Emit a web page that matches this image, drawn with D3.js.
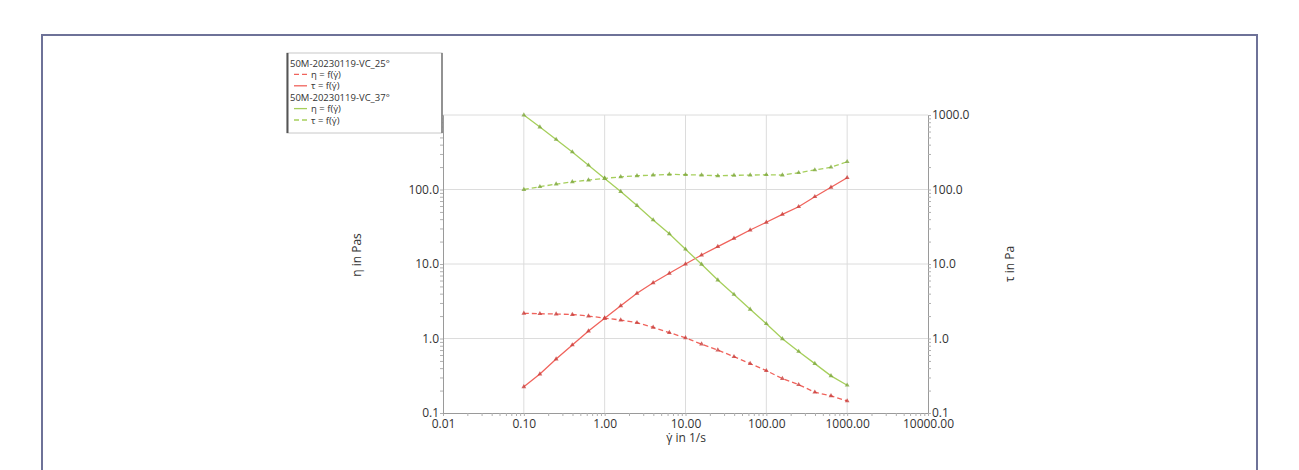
<!DOCTYPE html>
<html>
<head>
<meta charset="utf-8">
<script src="https://cdn.jsdelivr.net/npm/d3@7"></script>
<style>
  body { margin: 0; background: #fff; }
  svg text { font-family: "Open Sans", "DejaVu Sans", sans-serif; fill: #333; }
</style>
</head>
<body>
<div id="chart"></div>
<script>
const width = 1299;
const height = 470;

// shear rate (1/s)
const shearRate = [0.1, 0.158, 0.251, 0.398, 0.631, 1, 1.58, 2.51, 3.98, 6.31, 10,
  15.8, 25.1, 39.8, 63.1, 100, 158, 251, 398, 631, 1000];

// 25° sample
const eta25 = [2.18, 2.15, 2.13, 2.1, 2.0, 1.88, 1.77, 1.63, 1.41, 1.2, 1.02,
  0.84, 0.7, 0.57, 0.46, 0.37, 0.29, 0.24, 0.19, 0.17, 0.145];
const tau25 = [0.225, 0.333, 0.53, 0.82, 1.26, 1.87, 2.75, 4.04, 5.6, 7.5, 10.0,
  13.2, 17.1, 22.1, 28.6, 36.3, 46.4, 58.7, 80, 107, 144];

// 37° sample
const eta37 = [1000, 690, 470, 319, 212, 141, 94, 61, 39, 25.4, 15.8,
  9.9, 6.1, 3.9, 2.47, 1.58, 0.99, 0.67, 0.46, 0.315, 0.236];
const tau37 = [100, 109, 118, 127, 134, 141, 148, 153, 156, 160, 158,
  156, 153, 155, 156, 158, 156, 168, 183, 199, 236];

const xTickLabels = ["0.01", "0.10", "1.00", "10.00", "100.00", "1000.00", "10000.00"];
const leftTickLabels = ["0.1", "1.0", "10.0", "100.0"];
const rightTickLabels = ["0.1", "1.0", "10.0", "100.0", "1000.0"];

const red = "#f0635c";
const green = "#a6cf5c";

const series = [
  { name: "eta25", values: eta25, color: red, marker: "#c9403c", dash: "5,3" },
  { name: "tau25", values: tau25, color: red, marker: "#c9403c", dash: null },
  { name: "eta37", values: eta37, color: green, marker: "#7fa83e", dash: null },
  { name: "tau37", values: tau37, color: green, marker: "#7fa83e", dash: "5,3" },
];

const svg = d3.select("#chart").append("svg")
  .attr("width", width)
  .attr("height", height);

// page frame
svg.append("rect")
  .attr("x", 42).attr("y", 35)
  .attr("width", 1215).attr("height", 460)
  .attr("fill", "none")
  .attr("stroke", "#6e7298")
  .attr("stroke-width", 2);

const x = d3.scaleLog().domain([0.01, 10000]).range([443, 928]);
const y = d3.scaleLog().domain([0.1, 1000]).range([413, 115]);

const decadesX = [0.01, 0.1, 1, 10, 100, 1000, 10000];
const decadesY = [0.1, 1, 10, 100, 1000];

// grid
svg.append("g").selectAll("line").data(decadesX.slice(1, -1)).enter().append("line")
  .attr("x1", d => x(d)).attr("x2", d => x(d))
  .attr("y1", y(1000)).attr("y2", y(0.1))
  .attr("stroke", "#dcdcdc");
svg.append("g").selectAll("line").data(decadesY.slice(1)).enter().append("line")
  .attr("x1", x(0.01)).attr("x2", x(10000))
  .attr("y1", d => y(d)).attr("y2", d => y(d))
  .attr("stroke", "#dcdcdc");

// axes
const xAxis = svg.append("g")
  .attr("transform", `translate(0,${y(0.1)})`)
  .call(d3.axisBottom(x)
    .tickValues(x.ticks())
    .tickSize(3)
    .tickPadding(3)
    .tickFormat(d => {
      const i = decadesX.findIndex(v => Math.abs(v - d) < d * 1e-6);
      return i >= 0 ? xTickLabels[i] : "";
    }));

const leftAxis = svg.append("g")
  .attr("transform", `translate(${x(0.01)},0)`)
  .call(d3.axisLeft(y)
    .tickValues(y.ticks())
    .tickSize(3)
    .tickPadding(1)
    .tickFormat(d => {
      const i = decadesY.findIndex(v => Math.abs(v - d) < d * 1e-6);
      return i >= 0 && i < leftTickLabels.length ? leftTickLabels[i] : "";
    }));

const rightAxis = svg.append("g")
  .attr("transform", `translate(${x(10000)},0)`)
  .call(d3.axisRight(y)
    .tickValues(y.ticks())
    .tickSize(3)
    .tickPadding(1)
    .tickFormat(d => {
      const i = decadesY.findIndex(v => Math.abs(v - d) < d * 1e-6);
      return i >= 0 ? rightTickLabels[i] : "";
    }));

[xAxis, leftAxis, rightAxis].forEach(g => {
  g.select(".domain").attr("stroke", "#9a9a9a");
  g.selectAll(".tick line").attr("stroke", "#b0b0b0");
  g.selectAll("text").attr("font-size", 12).attr("fill", "#333");
});

// axis titles
svg.append("text")
  .attr("transform", `translate(361,255) rotate(-90)`)
  .attr("text-anchor", "middle")
  .attr("font-size", 12)
  .text("η in Pas");
svg.append("text")
  .attr("transform", `translate(1014,264) rotate(-90)`)
  .attr("text-anchor", "middle")
  .attr("font-size", 12)
  .text("τ in Pa");
svg.append("text")
  .attr("x", 686).attr("y", 442)
  .attr("text-anchor", "middle")
  .attr("font-size", 12)
  .text("γ̇ in 1/s");

// curves
const line = d3.line()
  .x((d, i) => x(shearRate[i]))
  .y(d => y(d));

series.forEach(s => {
  svg.append("path")
    .datum(s.values)
    .attr("fill", "none")
    .attr("stroke", s.color)
    .attr("stroke-width", 1.3)
    .attr("stroke-dasharray", s.dash)
    .attr("d", line);
  svg.append("g").selectAll("path").data(s.values).enter().append("path")
    .attr("transform", (d, i) => `translate(${x(shearRate[i])},${y(d)})`)
    .attr("d", d3.symbol(d3.symbolTriangle, 10))
    .attr("fill", s.marker)
    .attr("opacity", 0.8);
});

// legend
const lg = svg.append("g").attr("transform", "translate(287,53)");
lg.append("rect").attr("width", 155).attr("height", 80)
  .attr("fill", "#fff").attr("stroke", "#c8c8c8");
lg.append("line").attr("x1", 0.5).attr("x2", 0.5).attr("y1", 0).attr("y2", 80)
  .attr("stroke", "#555").attr("stroke-width", 2);
lg.append("line").attr("x1", 155).attr("x2", 155).attr("y1", 0).attr("y2", 80)
  .attr("stroke", "#777").attr("stroke-width", 1.5);

const legendRows = [
  { label: "50M-20230119-VC_25°", header: true },
  { label: "η = f(γ̇)", s: series[0] },
  { label: "τ = f(γ̇)", s: series[1] },
  { label: "50M-20230119-VC_37°", header: true },
  { label: "η = f(γ̇)", s: series[2] },
  { label: "τ = f(γ̇)", s: series[3] },
];

legendRows.forEach((r, i) => {
  const yy = 10 + i * 11.4;
  if (r.header) {
    lg.append("text").attr("x", 3).attr("y", yy + 3.5)
      .attr("font-size", 9.5).attr("fill", "#333").text(r.label);
  } else {
    lg.append("line").attr("x1", 7).attr("x2", 20).attr("y1", yy).attr("y2", yy)
      .attr("stroke", r.s.color).attr("stroke-width", 1.3)
      .attr("stroke-dasharray", r.s.dash);
    lg.append("text").attr("x", 24).attr("y", yy + 3.5)
      .attr("font-size", 9.5).attr("fill", "#333").text(r.label);
  }
});
</script>
</body>
</html>
